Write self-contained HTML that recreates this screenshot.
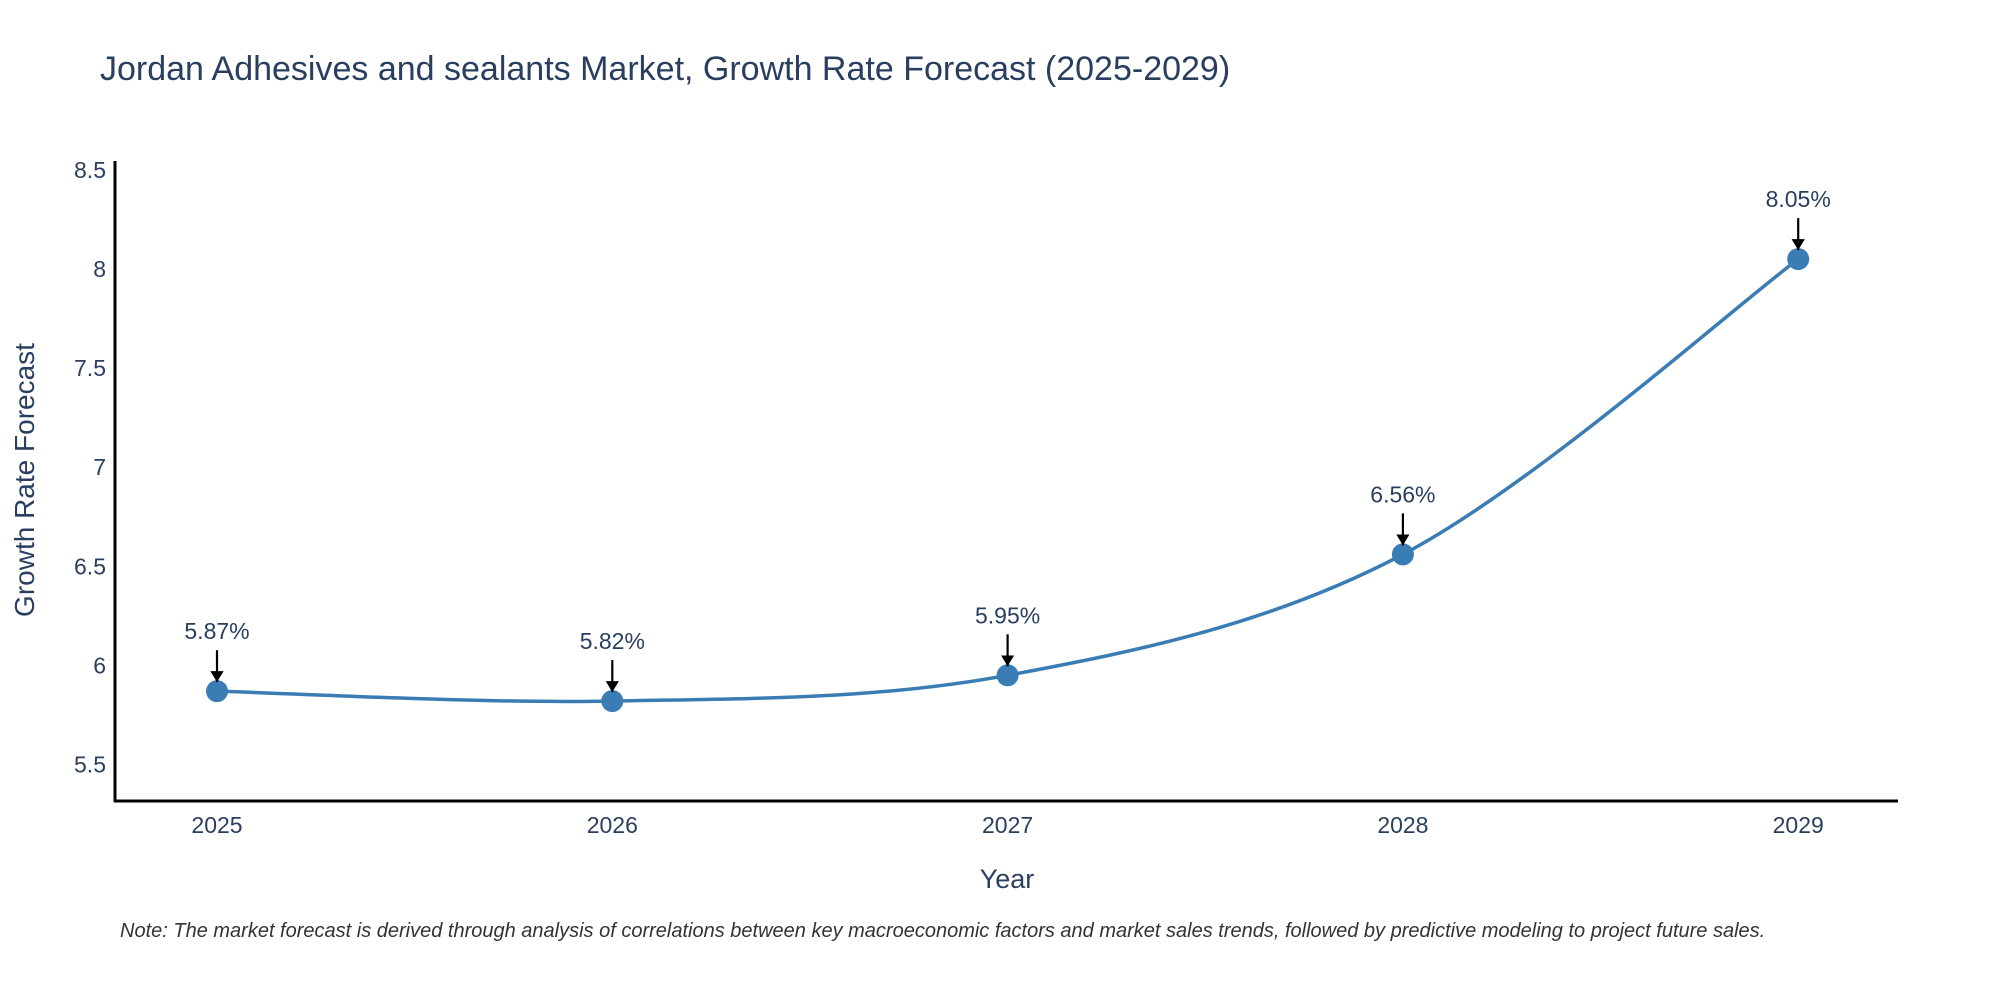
<!DOCTYPE html>
<html><head><meta charset="utf-8"><style>
body{margin:0;background:#fff;}
svg{display:block;font-family:"Liberation Sans",sans-serif;}
</style></head><body>
<svg width="2000" height="1000" viewBox="0 0 2000 1000">
<defs><marker id="ah" markerWidth="6" markerHeight="6" refX="5" refY="3" orient="auto" markerUnits="strokeWidth"><path d="M0,0 L5,3 L0,6 Z" fill="#000"/></marker></defs>
<text x="100" y="80" font-size="34" fill="#2a3f5f">Jordan Adhesives and sealants Market, Growth Rate Forecast (2025-2029)</text>
<g id="axes"></g>
<g id="plot"></g>
<text transform="translate(34,480) rotate(-90)" text-anchor="middle" font-size="28" fill="#2a3f5f">Growth Rate Forecast</text>
<text x="1007" y="888" text-anchor="middle" font-size="27" fill="#2a3f5f">Year</text>
<text x="120" y="937" font-size="20" font-style="italic" fill="#333">Note: The market forecast is derived through analysis of correlations between key macroeconomic factors and market sales trends, followed by predictive modeling to project future sales.</text>
</svg>
<script>
const years=[2025,2026,2027,2028,2029];
const values=[5.87,5.82,5.95,6.56,8.05];
const labels=["5.87%","5.82%","5.95%","6.56%","8.05%"];
const yTicks=[5.5,6,6.5,7,7.5,8,8.5];
const yTickLabels=["5.5","6","6.5","7","7.5","8","8.5"];
const NS="http://www.w3.org/2000/svg";
const X=y=>217+(y-2025)*395.3;
const Y=v=>269+(8-v)*198.2;
function mk(t,a,p){const e=document.createElementNS(NS,t);for(const k in a)e.setAttribute(k,a[k]);p.appendChild(e);return e;}
const ax=document.getElementById('axes'),pl=document.getElementById('plot');
let l=mk('line',{x1:115,y1:161,x2:115,y2:802,stroke:'#000','stroke-width':3},ax);


l=mk('line',{x1:114,y1:801,x2:1898,y2:801,stroke:'#000','stroke-width':3},ax);


yTicks.forEach((v,i)=>{const t=mk('text',{x:106,y:Y(v)+8,'text-anchor':'end','font-size':23,fill:'#2a3f5f'},ax);t.textContent=yTickLabels[i];

});
years.forEach(y=>{const t=mk('text',{x:X(y),y:833,'text-anchor':'middle','font-size':23,fill:'#2a3f5f'},ax);t.textContent=String(y);

});
const pts=years.map((y,i)=>[X(y),Y(values[i])]);
let d=`M${pts[0][0]},${pts[0][1]}`;
for(let i=0;i<pts.length-1;i++){const p0=pts[i-1]||pts[i],p1=pts[i],p2=pts[i+1],p3=pts[i+2]||p2;const s=6;
d+=` C${p1[0]+(p2[0]-p0[0])/s},${p1[1]+(p2[1]-p0[1])/s} ${p2[0]-(p3[0]-p1[0])/s},${p2[1]-(p3[1]-p1[1])/s} ${p2[0]},${p2[1]}`;}
const path=mk('path',{d:d,fill:'none',stroke:'#3a7db5','stroke-width':3.5},pl);


pts.forEach((p,i)=>{const c=mk('circle',{cx:p[0],cy:p[1],r:11,fill:'#3a7db5'},pl);


const a=mk('line',{x1:p[0],y1:p[1]-41,x2:p[0],y2:p[1]-9,stroke:'#000','stroke-width':2.2,'marker-end':'url(#ah)'},pl);


const t=mk('text',{x:p[0],y:p[1]-52,'text-anchor':'middle','font-size':23,fill:'#2a3f5f'},pl);t.textContent=labels[i];

});
</script>
</body></html>
